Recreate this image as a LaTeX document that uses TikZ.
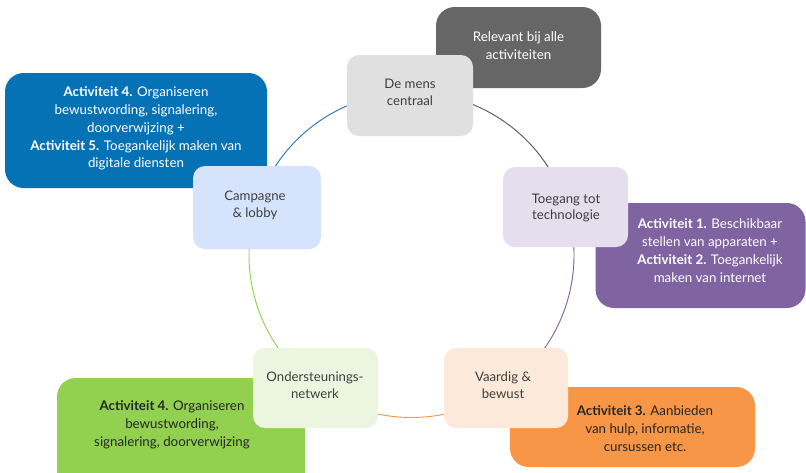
\documentclass[tikz,border=0pt]{standalone}
\usepackage{fontspec}
\setmainfont{Lato}
\definecolor{txtgray}{HTML}{3F3F3F}
\definecolor{txtdark}{HTML}{262626}
\definecolor{demensfill}{HTML}{E0E0E0}
\definecolor{relevantfill}{HTML}{666666}
\definecolor{campfill}{HTML}{D6E3FC}
\definecolor{bluefill}{HTML}{0672B6}
\definecolor{toegfill}{HTML}{E5DEEC}
\definecolor{purplefill}{HTML}{8064A2}
\definecolor{onderfill}{HTML}{EBF5DF}
\definecolor{greenfill}{HTML}{92D050}
\definecolor{vaarfill}{HTML}{FDE9D9}
\definecolor{orangefill}{HTML}{F79646}
\definecolor{arcblue}{HTML}{2E75B6}
\definecolor{arcdark}{HTML}{595959}
\definecolor{arcpurple}{HTML}{7F63A1}
\definecolor{arcorange}{HTML}{F79646}
\definecolor{arcgreen}{HTML}{92D050}
\begin{document}
\begin{tikzpicture}[x=0.75pt,y=-0.75pt,
  smallbox/.style={rounded corners=9pt, inner sep=0pt, draw=none},
  bigbox/.style={rounded corners=14pt, inner sep=0pt, draw=none},
  smalltxt/.style={align=center, font=\fontsize{9.9}{12.6}\selectfont, text=txtgray, inner sep=0pt},
  bigtxt/.style={align=center, font=\fontsize{10}{13.4}\selectfont, inner sep=0pt},
  ring/.style={line width=0.7pt}
]
\clip (0,0) rectangle (806,472);
\fill[white] (0,0) rectangle (806,472);
\coordinate (c) at (411.5,255);
% ring arcs
\draw[ring, draw=arcblue] ([shift={(90:121.875pt)}]c) arc[start angle=90, end angle=163, radius=121.875pt];
\draw[ring, draw=arcdark] ([shift={(17:121.875pt)}]c) arc[start angle=17, end angle=90, radius=121.875pt];
\draw[ring, draw=arcpurple] ([shift={(-55:121.875pt)}]c) arc[start angle=-55, end angle=17, radius=121.875pt];
\draw[ring, draw=arcorange] ([shift={(-126:121.875pt)}]c) arc[start angle=-126, end angle=-55, radius=121.875pt];
\draw[ring, draw=arcgreen] ([shift={(163:121.875pt)}]c) arc[start angle=163, end angle=234, radius=121.875pt];
% big boxes
\node[bigbox, fill=relevantfill, minimum width=123.75pt, minimum height=60.75pt] (relbox) at (518.5,47.5) {};
\node[bigtxt, text=white] (reltxt) at (518.5,46) {Relevant bij alle\\activiteiten};
\node[bigbox, fill=bluefill, minimum width=196.5pt, minimum height=86.25pt] (bluebox) at (136,130.5) {};
\node[bigtxt, text=white] (bluetxt) at (136,128.5) {\textbf{Activiteit 4.} Organiseren\\bewustwording, signalering,\\doorverwijzing +\\\textbf{Activiteit 5.} Toegankelijk maken van\\digitale diensten};
\node[bigbox, fill=purplefill, minimum width=157.5pt, minimum height=78.75pt] (purplebox) at (700.5,255.5) {};
\node[bigtxt, text=white] (purpletxt) at (710,250.5) {\textbf{Activiteit 1.} Beschikbaar\\stellen van apparaten +\\\textbf{Activiteit 2.} Toegankelijk\\maken van internet};
\node[bigbox, fill=greenfill, minimum width=186pt, minimum height=87.75pt] (greenbox) at (181,436.5) {};
\node[bigtxt, text=txtdark] (greentxt) at (172,424.5) {\textbf{Activiteit 4.} Organiseren\\bewustwording,\\signalering, doorverwijzing};
\node[bigbox, fill=orangefill, minimum width=183.75pt, minimum height=60pt] (orangebox) at (632.5,427) {};
\node[bigtxt, text=txtdark] (orangetxt) at (645,428.5) {\textbf{Activiteit 3.} Aanbieden\\van hulp, informatie,\\cursussen etc.};
% small boxes
\node[smallbox, fill=demensfill, minimum width=94.5pt, minimum height=60.75pt] (demens) at (410,95.5) {};
\node[smalltxt] (demenstxt) at (410,92) {De mens\\centraal};
\node[smallbox, fill=campfill, minimum width=96pt, minimum height=62.25pt] (camp) at (257,207.5) {};
\node[smalltxt] (camptxt) at (255,205.5) {Campagne\\\&\ lobby};
\node[smallbox, fill=toegfill, minimum width=93.75pt, minimum height=60pt] (toeg) at (565.5,207) {};
\node[smalltxt] (toegtxt) at (566,208) {Toegang tot\\technologie};
\node[smallbox, fill=onderfill, minimum width=93.75pt, minimum height=60pt] (onder) at (315.5,388) {};
\node[smalltxt] (ondertxt) at (315,385) {Ondersteunings-\\netwerk};
\node[smallbox, fill=vaarfill, minimum width=93pt, minimum height=60pt] (vaar) at (506,388) {};
\node[smalltxt] (vaartxt) at (503,385) {Vaardig \&\\bewust};
\end{tikzpicture}
\end{document}
